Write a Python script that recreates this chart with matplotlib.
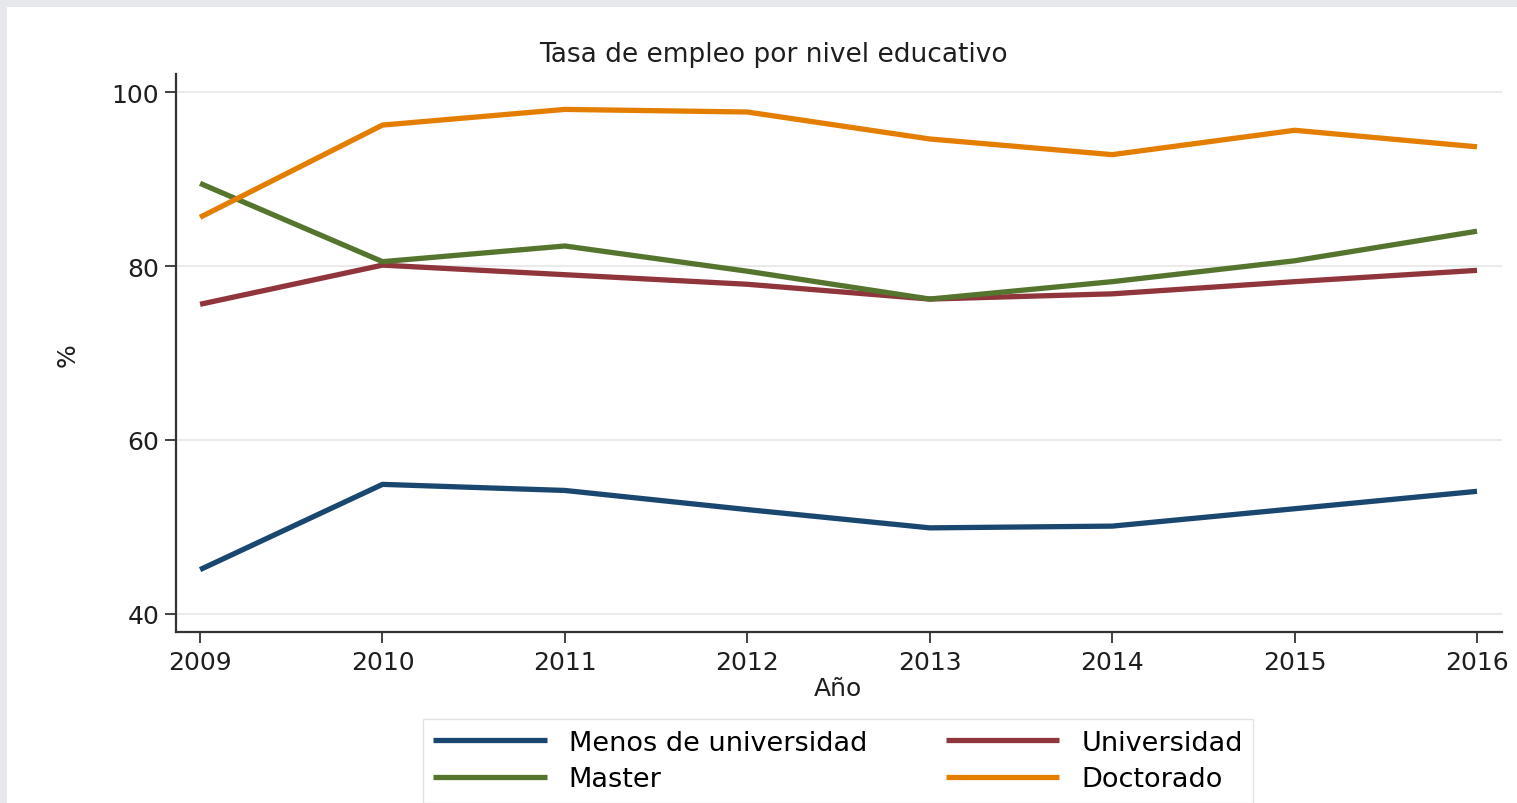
import matplotlib
matplotlib.use("Agg")
import matplotlib.pyplot as plt
from matplotlib.patches import Rectangle

plt.rcParams['font.family'] = ['DejaVu Sans']

years = [2009, 2010, 2011, 2012, 2013, 2014, 2015, 2016]
menos_universidad = [45.1, 54.9, 54.2, 52.0, 49.9, 50.1, 52.1, 54.1]
universidad = [75.6, 80.1, 79.0, 77.9, 76.2, 76.8, 78.2, 79.5]
master = [89.5, 80.5, 82.3, 79.4, 76.2, 78.2, 80.6, 84.0]
doctorado = [85.6, 96.2, 98.0, 97.7, 94.6, 92.8, 95.6, 93.7]

series_labels = ["Menos de universidad", "Universidad", "Master", "Doctorado"]
colors = ["#1a476f", "#90353b", "#55752f", "#e37e00"]
y_ticks = [40, 60, 80, 100]

FS = 18
TXT = "#1e1e1e"

fig = plt.figure(figsize=(15.17, 8.04), dpi=100)
fig.patch.set_facecolor("white")
fig.add_artist(Rectangle((0, 1 - 8 / 804), 1, 8 / 804, transform=fig.transFigure,
                         facecolor="#e6e8eb", edgecolor="none"))
fig.add_artist(Rectangle((0, 0), 7 / 1517, 1, transform=fig.transFigure,
                         facecolor="#e6e8eb", edgecolor="none"))

ax = fig.add_axes([176 / 1517, 1 - 633 / 804, (1502 - 176) / 1517, (633 - 75) / 804])
ax.set_facecolor("white")

data = [menos_universidad, universidad, master, doctorado]
lines = {}
for vals, lab, c in zip(data, series_labels, colors):
    ln, = ax.plot(years, vals, color=c, linewidth=3.8, label=lab, solid_capstyle="butt")
    lines[lab] = ln

ax.set_xlim(2008.868, 2016.137)
ax.set_ylim(37.93, 102.07)
ax.set_yticks(y_ticks)
ax.set_xticks(years)
ax.grid(axis="y", color="#eaeaea", linewidth=1.5)
ax.set_axisbelow(True)
for s in ["top", "right"]:
    ax.spines[s].set_visible(False)
for s in ["left", "bottom"]:
    ax.spines[s].set_color("#333333")
    ax.spines[s].set_linewidth(1.6)
ax.tick_params(axis="both", direction="out", length=8, width=1.3, color="#333333",
               labelsize=FS, labelcolor=TXT)
ax.tick_params(axis="x", pad=5)
ax.tick_params(axis="y", pad=4)

fig.text(838 / 1517, 1 - 689 / 804, "Año", fontsize=FS, color=TXT, ha="center", va="center")
fig.text(68 / 1517, 1 - 355 / 804, "%", fontsize=FS, color=TXT, ha="center", va="center",
         rotation=90)
fig.text(773 / 1517, 1 - 55 / 804, "Tasa de empleo por nivel educativo", fontsize=19,
         color=TXT, ha="center", va="center")

# column-major order so rows read: Menos | Universidad ; Master | Doctorado
order = ["Menos de universidad", "Master", "Universidad", "Doctorado"]
leg = fig.legend([lines[k] for k in order], order, ncol=2,
                 loc="center", bbox_to_anchor=(838 / 1517, 1 - 762 / 804),
                 fontsize=19.5, handlelength=4.2, columnspacing=2.9, handletextpad=0.8,
                 frameon=True, fancybox=False, edgecolor="#dddddd", borderpad=0.4,
                 labelspacing=0.38, borderaxespad=0)
leg.get_frame().set_linewidth(1.0)

fig.savefig("out.png", dpi=100, facecolor=fig.get_facecolor())
